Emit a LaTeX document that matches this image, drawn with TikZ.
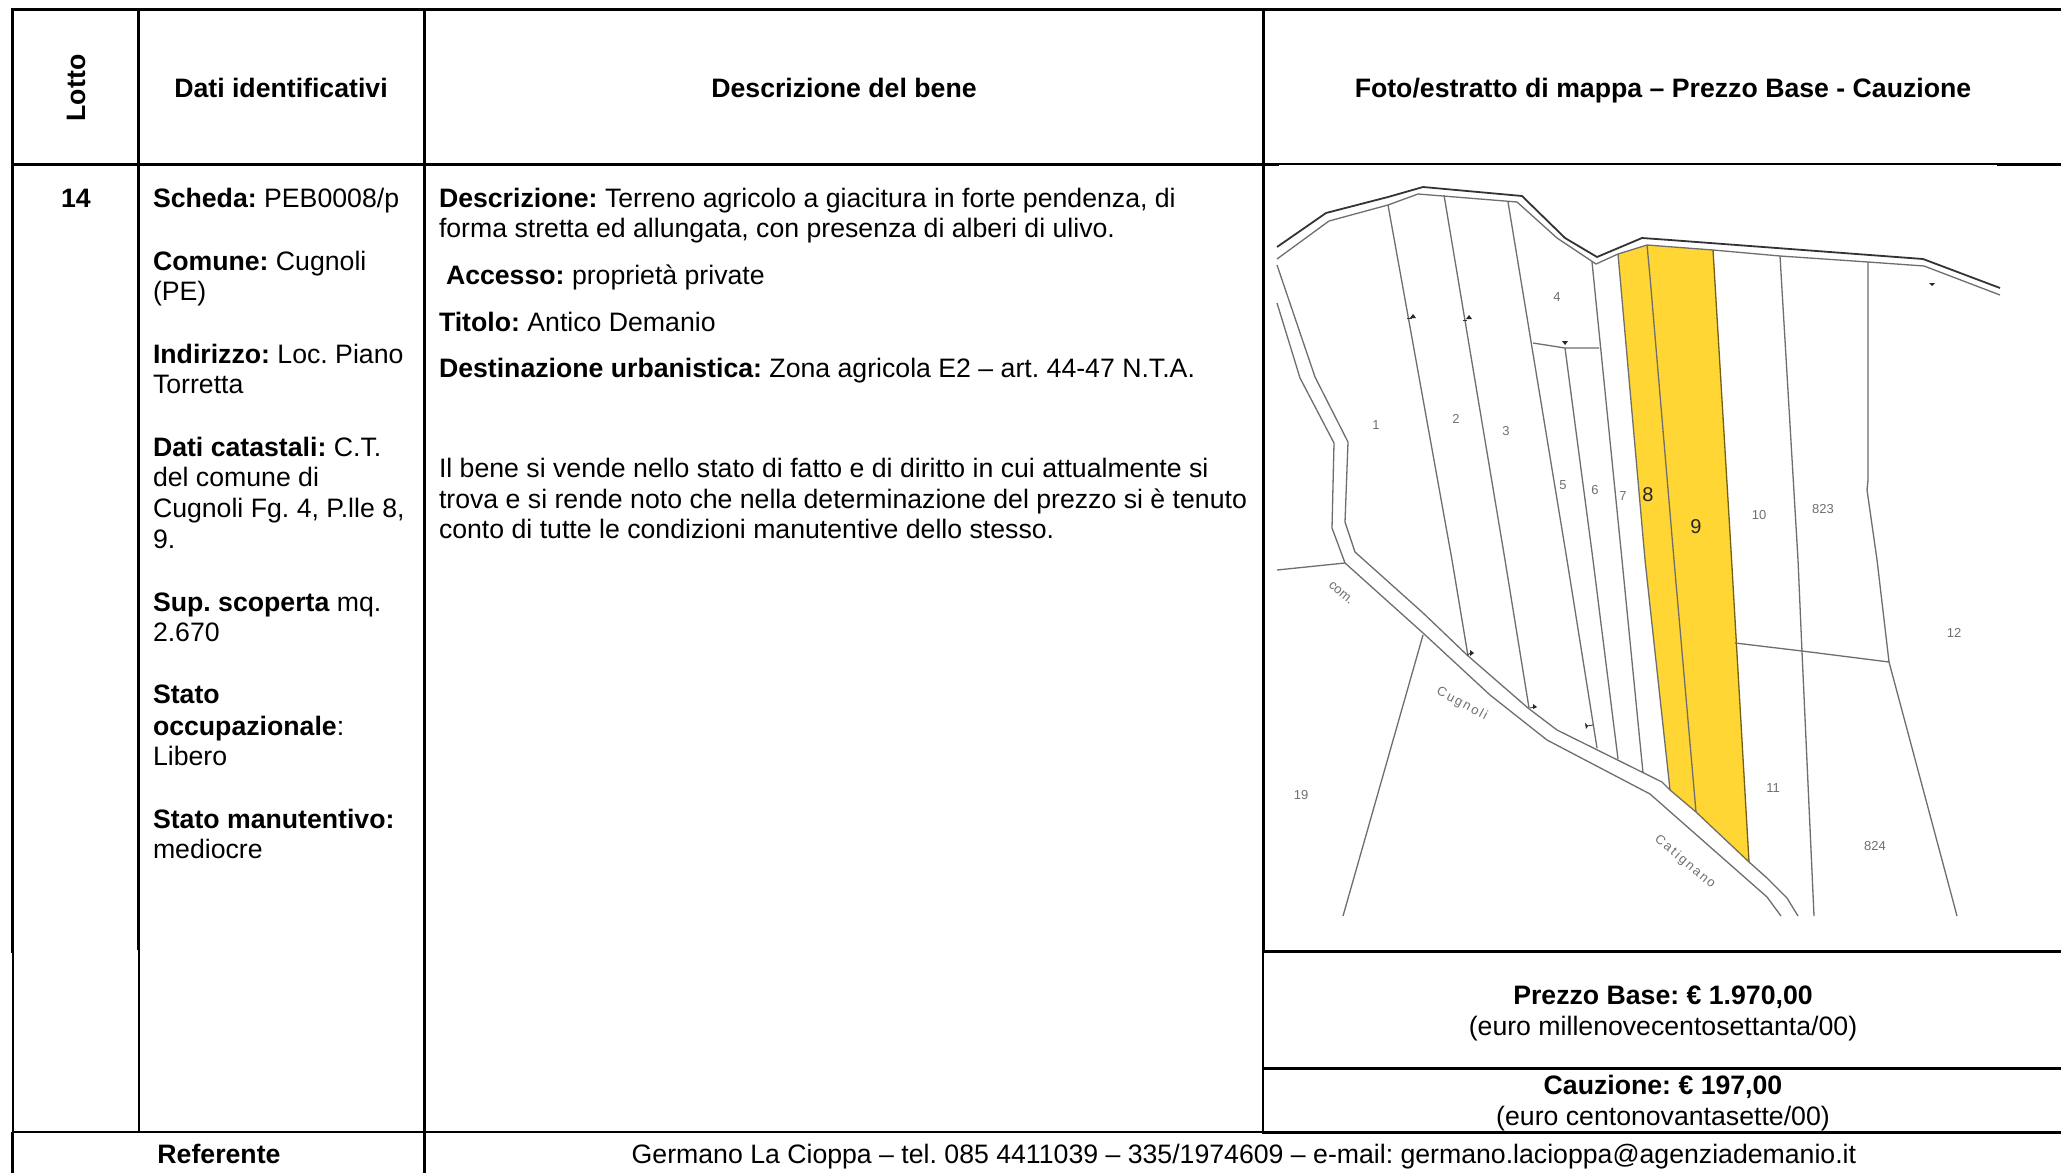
\documentclass[tikz,border=0pt]{standalone}
\usepackage{fontspec}
\setmainfont{Liberation Sans}
\definecolor{parcel}{HTML}{FFD633}
\definecolor{mapline}{HTML}{6E6E6E}
\definecolor{maptext}{HTML}{707070}
\tikzset{
  tb/.style={line width=3pt,black,line cap=rect},
  tbthin/.style={line width=2.2pt,black},
  txt/.style={inner sep=0pt,outer sep=0pt,anchor=base west,font=\frenchspacing\fontsize{26.67}{30.67}\selectfont},
  ctr/.style={txt,anchor=base},
  road/.style={line width=1.3pt,mapline,line join=round},
  roaddark/.style={line width=1.8pt,black!80,line join=round},
  plot/.style={line width=1.3pt,mapline,line join=round},
  lab/.style={inner sep=0pt,text=maptext,font=\fontsize{13}{13}\selectfont},
  labwide/.style={lab,font=\fontsize{13}{13}\selectfont\addfontfeature{LetterSpace=15}},
  labbig/.style={inner sep=0pt,text=black!85,font=\fontsize{20}{20}\selectfont},
  mk/.style={fill=black!85,draw=none}
}
\begin{document}
\begin{tikzpicture}[x=1pt,y=-1pt]
\useasboundingbox (0,0) rectangle (2061,1173);
\fill[white] (0,0) rectangle (2061,1173);

% map: parcels in yellow
\fill[parcel] (1618,254) -- (1647,245) -- (1713,250) -- (1731,550) -- (1749,862) -- (1696,812) -- (1670,790) -- (1645,560) -- cycle;

% map: roads
\draw[roaddark] (1277,247) -- (1326,213) -- (1388,197) -- (1423,187) -- (1522,196) -- (1565,238) -- (1597,257) -- (1642,238) -- (1670,240) -- (1923,259) -- (2000,288);
\draw[road] (1277,259) -- (1329,221) -- (1388,205) -- (1418,194) -- (1517,202) -- (1557,238) -- (1596,264) -- (1618,254) -- (1647,245) -- (1713,250) -- (1780,256) -- (1868,262) -- (1924,266) -- (2000,295);
\draw[road] (1277,265) -- (1315,377) -- (1348,442) -- (1345,522) -- (1355,552) -- (1422,612) -- (1443,632) -- (1467,655) -- (1528,708) -- (1557,730) -- (1662,782) -- (1670,790) -- (1696,812) -- (1749,862) -- (1767,878) -- (1787,898) -- (1798,916);
\draw[road] (1277,303) -- (1300,378) -- (1334,443) -- (1332,528) -- (1345,563) -- (1423,633) -- (1490,695) -- (1547,740) -- (1650,794) -- (1767,897) -- (1781,916);
\draw[plot] (1277,570) -- (1345,563);
\draw[plot] (1423,635) -- (1343,916);

% map: parcel boundaries
\draw[plot] (1388,205) -- (1452,560) -- (1468,656);
\draw[plot] (1444,195) -- (1505,560) -- (1529,708);
\draw[plot] (1508,202) -- (1567,560) -- (1597,748);
\draw[plot] (1565,348) -- (1593,560) -- (1618,759);
\draw[plot] (1592,262) -- (1622,560) -- (1643,773);
\draw[plot] (1533,343) -- (1565,348) -- (1599,348);
\draw[plot] (1618,254) -- (1645,560) -- (1670,790);
\draw[plot] (1647,245) -- (1650,277) -- (1674,560) -- (1696,812);
\draw[plot,draw=black!55!parcel] (1713,250) -- (1731,550) -- (1749,862);
\draw[plot] (1780,256) -- (1798,560) -- (1802,652) -- (1814,916);
\draw[plot] (1868,262) -- (1868,480) -- (1867,490) -- (1877,560) -- (1889,662) -- (1957,916);
\draw[plot] (1735,643) -- (1802,651) -- (1889,662);

% map: small boundary marks
\fill[mk] (1410,318) -- (1416,318) -- (1413,314) -- cycle;
\draw[line width=.8pt,black!80] (1407,318) -- (1412,318);
\fill[mk] (1466,319) -- (1472,319) -- (1469,315) -- cycle;
\draw[line width=.8pt,black!80] (1463,320) -- (1467,320);
\fill[mk] (1562,341) -- (1568,341) -- (1565,345) -- cycle;
\fill[mk] (1929,283) -- (1935,283) -- (1932,286) -- cycle;
\fill[mk] (1474,653) -- (1470,650) -- (1470,656) -- cycle;
\draw[line width=.8pt,black!80] (1467,655) -- (1471,653);
\fill[mk] (1537,707) -- (1533,704) -- (1533,709) -- cycle;
\draw[line width=.8pt,black!80] (1530,708) -- (1534,707);
\fill[mk] (1588,726) -- (1585,723) -- (1586,729) -- cycle;
\draw[line width=.8pt,black!80] (1587,726) -- (1593,725);

% map: labels
\node[lab] (n1) at (1376,425) {1};
\node[lab] (n2) at (1456,419) {2};
\node[lab] (n3) at (1506,431) {3};
\node[lab] (n4) at (1557,297) {4};
\node[lab] (n5) at (1563,485) {5};
\node[lab] (n6) at (1595,490) {6};
\node[lab] (n7) at (1623,496) {7};
\node[labbig] (n8) at (1648,495) {8};
\node[labbig] (n9) at (1696,527) {9};
\node[lab] (n10) at (1759,515) {10};
\node[lab] (n823) at (1823,509) {823};
\node[lab] (n12) at (1954,633) {12};
\node[lab] (n11) at (1773,788) {11};
\node[lab] (n824) at (1875,846) {824};
\node[lab] (n19) at (1301,795) {19};
\node[lab,rotate=-40] (ncom) at (1341,593) {com.};
\node[labwide,rotate=-28] (ncug) at (1462,704) {Cugnoli};
\node[labwide,rotate=-40] (ncat) at (1685,862) {Catignano};

% table rules
\draw[tb] (12.5,9.5) -- (2061,9.5);
\draw[tb] (12.5,164) -- (1277,164);
\draw[tbthin] (1277,164) -- (1998,164);
\draw[tb] (1998,164) -- (2061,164);
\draw[tb,line cap=butt] (12.5,9.5) -- (12.5,953);
\draw[tbthin] (13,953) -- (13,1132);
\draw[tb,line cap=butt] (12.5,1132) -- (12.5,1173);
\draw[tb,line cap=butt] (138,9.5) -- (138,950);
\draw[tbthin] (138.7,950) -- (138.7,1132);
\draw[tb,line cap=butt] (424.5,9.5) -- (424.5,950);
\draw[tbthin] (424.5,950) -- (424.5,1132);
\draw[tb,line cap=butt] (424.5,1132) -- (424.5,1173);
\draw[tb,line cap=butt] (1263,9.5) -- (1263,950);
\draw[tbthin] (1263,950) -- (1263,1132);
\draw[tb] (1263,951) -- (2061,951);
\draw[tb] (1263,1068) -- (2061,1068);
\draw[tbthin] (12.5,1132) -- (1263,1132);
\draw[tb] (1263,1132) -- (2061,1132);

% header
\node[ctr,rotate=90] (hlot) at (85,88) {\bfseries Lotto};
\node[ctr] (hdat) at (281,97) {\bfseries Dati identificativi};
\node[ctr] (hdes) at (844,97) {\bfseries Descrizione del bene};
\node[ctr] (hfot) at (1663,97) {\bfseries Foto/estratto di mappa – Prezzo Base - Cauzione};

% lot number
\node[ctr] (lot) at (76,207) {\bfseries 14};

% identification column
\node[txt] (a1) at (153,207) {\textbf{Scheda:} PEB0008/p};
\node[txt] (a2) at (153,270) {\textbf{Comune:} Cugnoli};
\node[txt] (a3) at (153,300.4) {(PE)};
\node[txt] (a4) at (153,363) {\textbf{Indirizzo:} Loc. Piano};
\node[txt] (a5) at (153,393.4) {Torretta};
\node[txt] (a6) at (153,456.5) {\textbf{Dati catastali:} C.T.};
\node[txt] (a7) at (153,486.8) {del comune di};
\node[txt] (a8) at (153,517) {Cugnoli Fg. 4, P.lle 8,};
\node[txt] (a9) at (153,548) {9.};
\node[txt] (a10) at (153,611) {\textbf{Sup. scoperta} mq.};
\node[txt] (a11) at (153,641.5) {2.670};
\node[txt] (a12) at (153,703.5) {\textbf{Stato}};
\node[txt] (a13) at (153,735) {\textbf{occupazionale}:};
\node[txt] (a14) at (153,765.5) {Libero};
\node[txt] (a15) at (153,828) {\textbf{Stato manutentivo:}};
\node[txt] (a16) at (153,858.5) {mediocre};

% description column
\node[txt] (b1) at (439,207) {\textbf{Descrizione:} Terreno agricolo a giacitura in forte pendenza, di};
\node[txt] (b2) at (439,237.5) {forma stretta ed allungata, con presenza di alberi di ulivo.};
\node[txt] (b3) at (446,284.5) {\textbf{Accesso:} proprietà private};
\node[txt] (b4) at (439,331) {\textbf{Titolo:} Antico Demanio};
\node[txt] (b5) at (439,377) {\textbf{Destinazione urbanistica:} Zona agricola E2 – art. 44-47 N.T.A.};
\node[txt] (b6) at (439,477) {Il bene si vende nello stato di fatto e di diritto in cui attualmente si};
\node[txt] (b7) at (439,508) {trova e si rende noto che nella determinazione del prezzo si è tenuto};
\node[txt] (b8) at (439,538) {conto di tutte le condizioni manutentive dello stesso.};

% price cells
\node[ctr] (p1) at (1663,1004) {\bfseries Prezzo Base: € 1.970,00};
\node[ctr] (p2) at (1663,1035) {(euro millenovecentosettanta/00)};
\node[ctr] (c1) at (1663,1094.5) {\bfseries Cauzione: € 197,00};
\node[ctr] (c2) at (1663,1125.5) {(euro centonovantasette/00)};

% footer
\node[ctr] (r1) at (219,1163) {\bfseries Referente};
\node[ctr] (r2) at (1244,1163) {Germano La Cioppa – tel. 085 4411039 – 335/1974609 – e-mail: germano.lacioppa@agenziademanio.it};
\end{tikzpicture}
\end{document}
